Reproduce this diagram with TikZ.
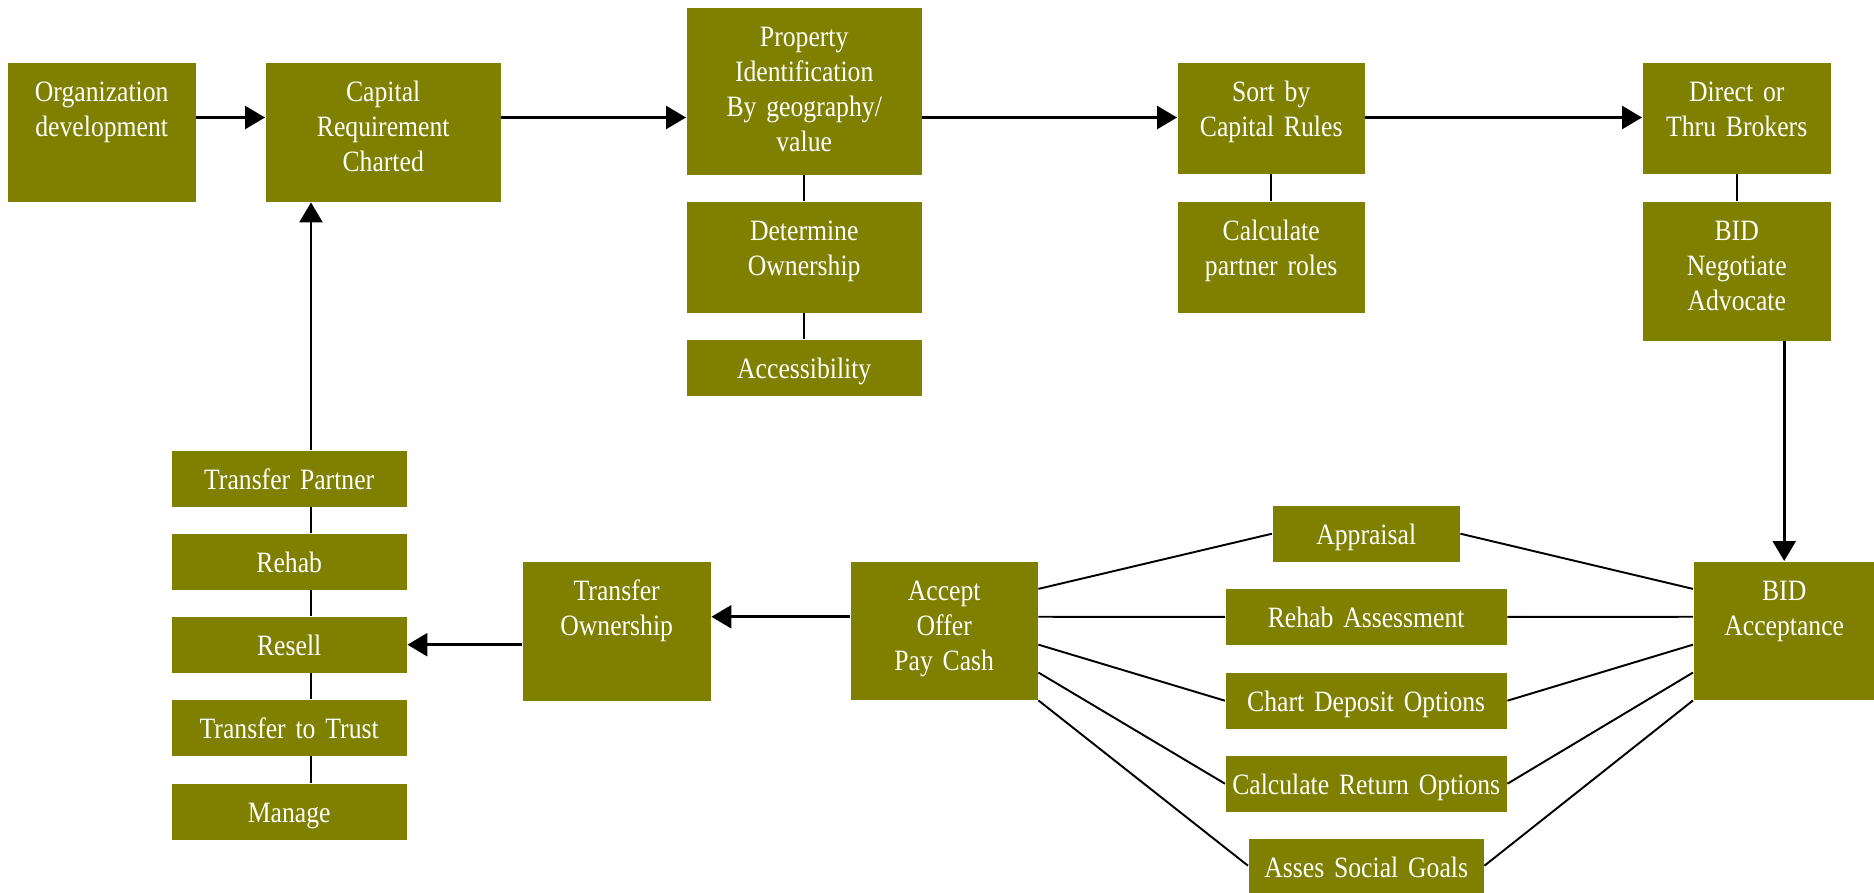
\documentclass[tikz,border=0pt]{standalone}
\usepackage{fontspec}
\setmainfont{Liberation Serif}[FakeStretch=0.87,WordSpace=0.8]
\usepackage{xcolor}
\usetikzlibrary{arrows.meta,calc}
\definecolor{boxolive}{RGB}{128,128,0}
\tikzset{
  blk/.style={fill=boxolive, text=white, align=center, inner sep=0pt,
    font=\fontsize{8.4}{9.96}\selectfont, text height=0.39cm, anchor=north west},
  link/.style={line width=0.55pt},
  arr/.style={line width=0.75pt, -{Triangle[length=2mm,width=2.3mm]}}
}
\begin{document}
\begin{tikzpicture}
  \useasboundingbox (0,0) rectangle (18.74,-8.92);
% top row
  \node[blk, text width=1.88cm, text depth=1.0cm] (org) at (0.07,-0.62) {Organization\\development};
  \node[blk, text width=2.35cm, text depth=1.0cm] (cap) at (2.65,-0.62) {Capital\\Requirement\\Charted};
  \node[blk, text width=2.35cm, text depth=1.28cm] (prop) at (6.86,-0.07) {Property\\Identification\\By geography/\\value};
  \node[blk, text width=2.35cm, text depth=0.72cm] (own) at (6.86,-2.01) {Determine\\Ownership};
  \node[blk, text width=2.35cm, text depth=0.17cm] (access) at (6.86,-3.39) {Accessibility};
  \node[blk, text width=1.87cm, text depth=0.72cm] (sort) at (11.77,-0.62) {Sort by\\Capital Rules};
  \node[blk, text width=1.87cm, text depth=0.72cm] (roles) at (11.77,-2.01) {Calculate\\partner roles};
  \node[blk, text width=1.88cm, text depth=0.72cm] (direct) at (16.42,-0.62) {Direct or\\Thru Brokers};
  \node[blk, text width=1.88cm, text depth=1.0cm] (nego) at (16.42,-2.01) {BID\\Negotiate\\Advocate};
% bottom row
  \node[blk, text width=1.81cm, text depth=0.99cm] (bidacc) at (16.93,-5.61) {BID\\Acceptance};
  \node[blk, text width=1.87cm, text depth=0.17cm] (apprais) at (12.72,-5.05) {Appraisal};
  \node[blk, text width=2.81cm, text depth=0.17cm] (rehabass) at (12.25,-5.882) {Rehab Assessment};
  \node[blk, text width=2.81cm, text depth=0.17cm] (deposit) at (12.25,-6.72) {Chart Deposit Options};
  \node[blk, text width=2.81cm, text depth=0.17cm] (returns) at (12.25,-7.55) {Calculate Return Options};
  \node[blk, text width=2.35cm, text depth=0.15cm] (social) at (12.48,-8.38) {Asses Social Goals};
  \node[blk, text width=1.87cm, text depth=0.99cm] (offer) at (8.50,-5.61) {Accept\\Offer\\Pay Cash};
  \node[blk, text width=1.88cm, text depth=1.0cm] (trown) at (5.22,-5.61) {Transfer\\Ownership};
  \node[blk, text width=2.35cm, text depth=0.17cm] (tpartner) at (1.71,-4.50) {Transfer Partner};
  \node[blk, text width=2.35cm, text depth=0.17cm] (rehab) at (1.71,-5.33) {Rehab};
  \node[blk, text width=2.35cm, text depth=0.17cm] (resell) at (1.71,-6.16) {Resell};
  \node[blk, text width=2.35cm, text depth=0.17cm] (trust) at (1.71,-6.99) {Transfer to Trust};
  \node[blk, text width=2.35cm, text depth=0.17cm] (manage) at (1.71,-7.83) {Manage};

  \coordinate (row) at (0,-1.175);
  \coordinate (col) at (3.11,0);
  \draw[arr] (org.east |- row) -- (cap.west |- row);
  \draw[arr] (cap.east |- row) -- (prop.west |- row);
  \draw[arr] (prop.east |- row) -- (sort.west |- row);
  \draw[arr] (sort.east |- row) -- (direct.west |- row);
  \draw[link] (prop.south) -- (own.north) (own.south) -- (access.north);
  \draw[link] (sort.south) -- (roles.north);
  \draw[link] (direct.south) -- (nego.north);
  \draw[arr] (nego.south -| bidacc.north) -- (bidacc.north);

  \foreach \f/\n in {0.2/apprais,0.4/rehabass,0.6/deposit,0.8/returns,1.0/social} {
    \draw[link] ($(offer.north east)!\f!(offer.south east)$) -- (\n.west);
    \draw[link] (\n.east) -- ($(bidacc.north west)!\f!(bidacc.south west)$);
  }
  \draw[arr] ($(offer.north west)!0.4!(offer.south west)$) coordinate (o4) -- (trown.east |- o4);
  \draw[arr] (trown.west |- resell) -- (resell.east);

  \draw[arr] (tpartner.north -| col) -- (cap.south -| col);
  \foreach \a/\b in {tpartner/rehab,rehab/resell,resell/trust,trust/manage}
    \draw[link] (\a.south -| col) -- (\b.north -| col);
\end{tikzpicture}
\end{document}
